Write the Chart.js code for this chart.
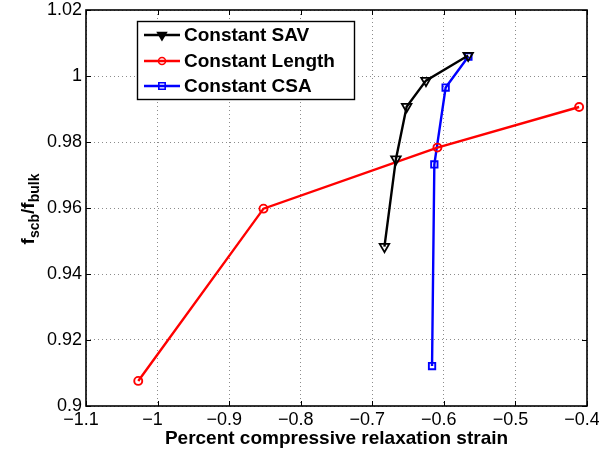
<!DOCTYPE html>
<html>
<head>
<meta charset="utf-8">
<script src="https://cdn.jsdelivr.net/npm/chart.js@4/dist/chart.umd.min.js"></script>
<style>
  html, body { margin: 0; padding: 0; background: #fff; }
  #wrap { width: 599px; height: 454px; }
</style>
</head>
<body>
<div id="wrap"><canvas id="c" width="599" height="454"></canvas></div>
<script>
// ---- data ----
const seriesNames = ["Constant SAV", "Constant Length", "Constant CSA"];
const savX = [-0.683, -0.667, -0.652, -0.625, -0.566];
const savY = [0.9483, 0.9748, 0.9907, 0.9986, 1.0062];
const lenX = [-1.027, -0.852, -0.609, -0.411];
const lenY = [0.9076, 0.9598, 0.9783, 0.9906];
const csaX = [-0.6165, -0.6133, -0.5975, -0.5657];
const csaY = [0.9121, 0.9732, 0.9965, 1.0059];
const xTicks = [-1.1, -1.0, -0.9, -0.8, -0.7, -0.6, -0.5, -0.4];
const yTicks = [0.9, 0.92, 0.94, 0.96, 0.98, 1.0, 1.02];
const xTitle = "Percent compressive relaxation strain";
const yTitleParts = [["f", false], ["scb", true], ["/f", false], ["bulk", true]];

const pts = (xs, ys) => xs.map((x, i) => ({ x: x, y: ys[i] }));

const FONT = "'Liberation Sans', Arial, Helvetica, sans-serif";

const overlay = {
  id: 'overlay',
  afterDraw(chart) {
    const ctx = chart.ctx;
    const a = chart.chartArea;
    const xs = chart.scales.x, ys = chart.scales.y;
    ctx.save();
    // frame
    ctx.strokeStyle = '#000';
    ctx.lineWidth = 1.6;
    ctx.setLineDash([]);
    ctx.strokeRect(a.left, a.top, a.right - a.left, a.bottom - a.top);
    // inward tick marks
    ctx.lineWidth = 1;
    const tl = 5;
    ctx.beginPath();
    xTicks.forEach(v => {
      const px = Math.round(xs.getPixelForValue(v)) + 0.5;
      ctx.moveTo(px, a.bottom); ctx.lineTo(px, a.bottom - tl);
      ctx.moveTo(px, a.top); ctx.lineTo(px, a.top + tl);
    });
    yTicks.forEach(v => {
      const py = Math.round(ys.getPixelForValue(v)) + 0.5;
      ctx.moveTo(a.left, py); ctx.lineTo(a.left + tl, py);
      ctx.moveTo(a.right, py); ctx.lineTo(a.right - tl, py);
    });
    ctx.stroke();

    // legend box
    const bx = 137, by = 21, bw = 217, bh = 78;
    ctx.fillStyle = '#fff';
    ctx.fillRect(bx, by, bw, bh);
    ctx.strokeStyle = '#000';
    ctx.lineWidth = 1.4;
    ctx.strokeRect(bx + 0.5, by + 0.5, bw, bh);
    const rowY = [35, 61, 86];
    chart.data.datasets.forEach((ds, i) => {
      const y = rowY[i];
      ctx.strokeStyle = ds.borderColor;
      ctx.lineWidth = 2.4;
      ctx.beginPath();
      ctx.moveTo(144, y); ctx.lineTo(180, y);
      ctx.stroke();
      ctx.fillStyle = ds.legendFill;
      ctx.strokeStyle = ds.borderColor;
      ctx.lineWidth = 1.6;
      Chart.helpers.drawPoint(ctx, {
        pointStyle: ds.pointStyle,
        rotation: ds.pointRotation || 0,
        radius: ds.legendRadius,
        borderWidth: 1.6
      }, 162, y);
      ctx.fillStyle = '#000';
      ctx.font = 'bold 19px ' + FONT;
      ctx.textBaseline = 'middle';
      ctx.textAlign = 'left';
      ctx.fillText(ds.label, 184, y + 1);
    });

    // y-axis title with subscripts
    ctx.save();
    ctx.translate(28, (a.top + a.bottom) / 2 + 1);
    ctx.rotate(-Math.PI / 2);
    ctx.textBaseline = 'alphabetic';
    ctx.textAlign = 'left';
    const big = 'bold 19px ' + FONT, small = 'bold 14px ' + FONT;
    let total = 0;
    yTitleParts.forEach(([t, sub]) => { ctx.font = sub ? small : big; total += ctx.measureText(t).width; });
    let cx = -total / 2;
    yTitleParts.forEach(([t, sub]) => {
      ctx.font = sub ? small : big;
      ctx.fillStyle = '#000';
      ctx.fillText(t, cx, sub ? 11 : 6);
      cx += ctx.measureText(t).width;
    });
    ctx.restore();
    ctx.restore();
  }
};

const fmt = v => {
  const r = Math.round(v * 100) / 100;
  return String(r).replace('-', '\u2212');
};

new Chart(document.getElementById('c'), {
  type: 'line',
  data: {
    datasets: [
      { label: seriesNames[0], data: pts(savX, savY), borderColor: '#000', backgroundColor: 'rgba(0,0,0,0)',
        pointStyle: 'triangle', pointRotation: 180, pointRadius: 5.5, pointBorderWidth: 1.8,
        legendRadius: 5, legendFill: '#000' },
      { label: seriesNames[1], data: pts(lenX, lenY), borderColor: '#ff0000', backgroundColor: 'rgba(0,0,0,0)',
        pointStyle: 'circle', pointRadius: 4, pointBorderWidth: 1.9,
        legendRadius: 3.5, legendFill: 'rgba(0,0,0,0)' },
      { label: seriesNames[2], data: pts(csaX, csaY), borderColor: '#0000ff', backgroundColor: 'rgba(0,0,0,0)',
        pointStyle: 'rect', pointRadius: 4.5, pointBorderWidth: 1.9,
        legendRadius: 4.5, legendFill: 'rgba(0,0,0,0)' }
    ].map(d => Object.assign({ borderWidth: 2.4, tension: 0, fill: false, pointHoverRadius: d.pointRadius }, d))
  },
  options: {
    responsive: false,
    animation: false,
    devicePixelRatio: 1,
    layout: { padding: { top: 10, right: 12, left: 0, bottom: 0 } },
    plugins: { legend: { display: false }, tooltip: { enabled: false } },
    scales: {
      x: {
        type: 'linear', min: -1.1, max: -0.4,
        afterBuildTicks: s => { s.ticks = xTicks.map(v => ({ value: v })); },
        afterFit: s => { s.height = 48; s.paddingLeft = 0; s.paddingRight = 0; },
        ticks: { color: '#000', font: { family: FONT, size: 18 }, padding: 3, labelOffset: -5, maxRotation: 0, autoSkip: false, callback: v => fmt(v) },
        grid: { color: 'rgba(0,0,0,0.45)', lineWidth: 1, drawTicks: false },
        border: { display: false, dash: [1, 3] },
        title: { display: true, text: xTitle, color: '#000', font: { family: FONT, size: 19, weight: 'bold' }, padding: { top: 0, bottom: 4 } }
      },
      y: {
        type: 'linear', min: 0.9, max: 1.02,
        afterBuildTicks: s => { s.ticks = yTicks.map(v => ({ value: v })); },
        afterFit: s => { s.width = 86; s.paddingTop = 0; s.paddingBottom = 0; },
        ticks: { color: '#000', font: { family: FONT, size: 18 }, padding: 4, autoSkip: false, callback: v => fmt(v) },
        grid: { color: 'rgba(0,0,0,0.45)', lineWidth: 1, drawTicks: false },
        border: { display: false, dash: [1, 3] }
      }
    }
  },
  plugins: [overlay]
});
</script>
</body>
</html>
